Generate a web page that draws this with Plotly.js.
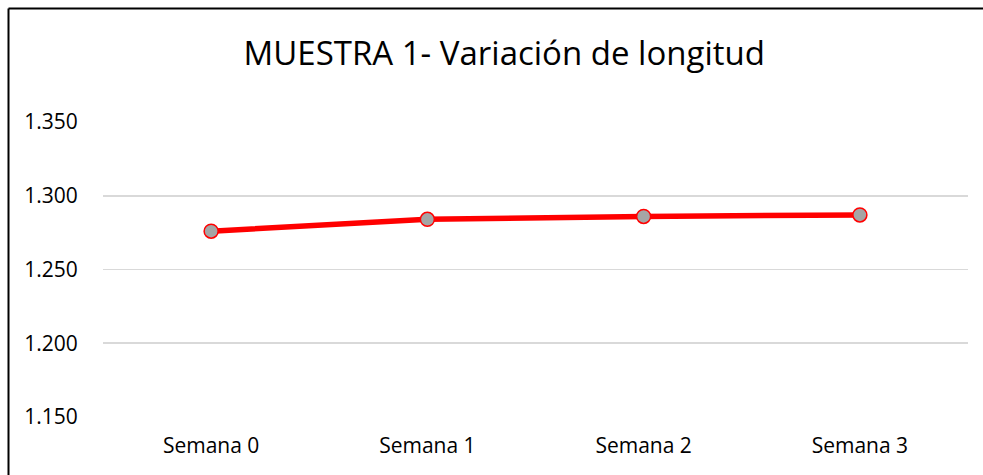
<!DOCTYPE html>
<html>
<head>
<meta charset="utf-8">
<script src="https://cdn.plot.ly/plotly-3.0.1.min.js"></script>
<style>html,body{margin:0;padding:0;background:#fff;}#chart{width:983px;height:475px;}</style>
</head>
<body>
<div id="chart"></div>
<script>
const categories = ["Semana 0", "Semana 1", "Semana 2", "Semana 3"];
const longitud = [1.276, 1.284, 1.286, 1.287];
const yTicks = [1.150, 1.200, 1.250, 1.300, 1.350];
const chartTitle = "MUESTRA 1- Variación de longitud";

const trace = {
  x: categories,
  y: longitud,
  type: "scatter",
  mode: "lines+markers",
  line: {color: "#FF0000", width: 5.5},
  marker: {size: 14, color: "#A5A5A5", line: {color: "#FF0000", width: 1.5}},
  hoverinfo: "x+y"
};

const layout = {
  width: 983,
  height: 475,
  margin: {l: 103, r: 15, t: 122, b: 58},
  paper_bgcolor: "#FFFFFF",
  plot_bgcolor: "#FFFFFF",
  font: {family: "'Open Sans', sans-serif", color: "#000000", size: 21},
  showlegend: false,
  title: {
    text: chartTitle,
    font: {size: 33, color: "#000000", family: "'Open Sans', sans-serif"},
    x: 0.513, xref: "container", xanchor: "center",
    y: 1 - 53/475, yref: "container", yanchor: "middle"
  },
  xaxis: {
    type: "category",
    range: [-0.5, 3.5],
    showgrid: false,
    zeroline: false,
    showline: false,
    ticks: "outside", ticklen: 10, tickcolor: "rgba(0,0,0,0)",
    tickfont: {size: 21}
  },
  yaxis: {
    range: [1.15, 1.35],
    tickvals: yTicks,
    tickformat: ".3f",
    showgrid: true,
    gridcolor: "#D9D9D9",
    gridwidth: 1.6,
    zeroline: false,
    showline: false,
    ticks: "outside", ticklen: 20, tickcolor: "rgba(0,0,0,0)",
    tickfont: {size: 21}
  },
  shapes: [
    {type: "line", xref: "paper", yref: "paper", x0: -0.10925, x1: 1.1, y0: 1.38475, y1: 1.38475, line: {color: "#000000", width: 2}},
    {type: "line", xref: "paper", yref: "paper", x0: -0.10925, x1: -0.10925, y0: 1.38475, y1: -0.3, line: {color: "#000000", width: 2}}
  ]
};

Plotly.newPlot("chart", [trace], layout, {displayModeBar: false, staticPlot: true});
</script>
</body>
</html>
